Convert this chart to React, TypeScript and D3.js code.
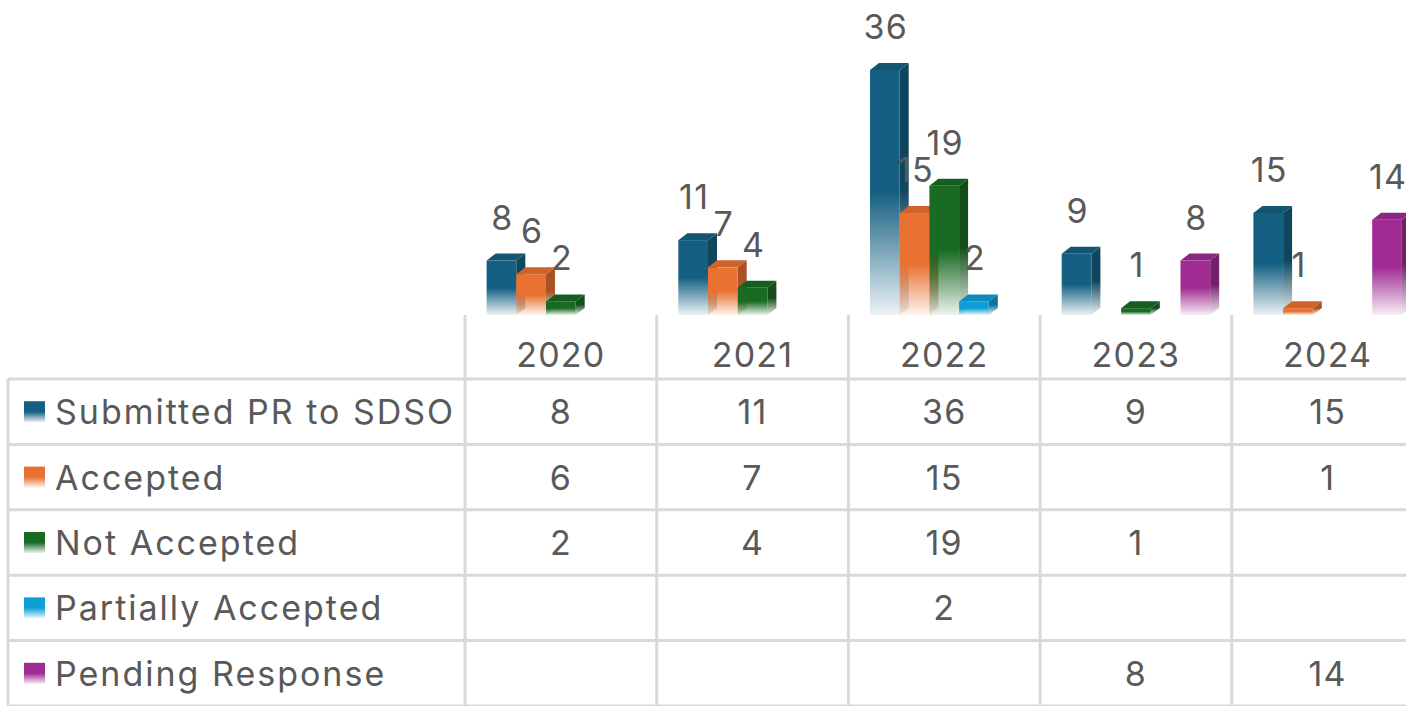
import React from 'react';
import * as d3 from 'd3';

const years = ['2020', '2021', '2022', '2023', '2024'];
const seriesNames = ['Submitted PR to SDSO', 'Accepted', 'Not Accepted', 'Partially Accepted', 'Pending Response'];
const submitted = [8, 11, 36, 9, 15];
const accepted = [6, 7, 15, null, 1];
const notAccepted = [2, 4, 19, 1, null];
const partiallyAccepted = [null, null, 2, null, null];
const pendingResponse = [null, null, null, 8, 14];
const seriesValues = [submitted, accepted, notAccepted, partiallyAccepted, pendingResponse];
const colors = ['#156082', '#E97132', '#196B24', '#0F9ED5', '#A02B93'];

const W = 1406;
const H = 706;
const FONT = 'Inter, "Liberation Sans", sans-serif';
const TEXT = '#595959';
const GRID = '#d9d9d9';

const App = () => {
  const tableLeft = 8;
  const firstColRight = 465;
  const colW = 191.7;
  const headerTop = 315;
  const tableTop = 379;
  const rowH = 65.4;
  const fontSize = 34;

  const x0 = d3.scaleBand().domain(years).range([firstColRight, firstColRight + colW * years.length]);
  const groupW = 148.5;
  const x1 = d3
    .scaleBand()
    .domain(seriesNames)
    .range([(x0.bandwidth() - groupW) / 2, (x0.bandwidth() + groupW) / 2]);
  const y = d3.scaleLinear().domain([0, 36]).range([315, 70]);
  const DX = 9;
  const DY = -7;

  const bars = [];
  const labels = [];
  years.forEach((yr, i) => {
    seriesNames.forEach((name, s) => {
      const v = seriesValues[s][i];
      if (v == null) return;
      const bx = x0(yr) + x1(name);
      const bw = x1.bandwidth();
      const top = y(v);
      const bottom = y(0);
      const side = `M${bx + bw},${top}L${bx + bw + DX},${top + DY}L${bx + bw + DX},${bottom + DY}L${bx + bw},${bottom}Z`;
      const topFace = `M${bx},${top}L${bx + DX},${top + DY}L${bx + bw + DX},${top + DY}L${bx + bw},${top}Z`;
      bars.push(
        <g key={`${yr}-${s}`}>
          <path d={side} fill={`url(#side-${s})`} />
          <path d={topFace} fill={d3.color(colors[s]).darker(0.35).toString()} />
          <rect x={bx} y={top} width={bw} height={bottom - top} fill={`url(#front-${s})`} />
        </g>
      );
      labels.push(
        <text key={`l-${yr}-${s}`} x={bx + bw / 2 + 1} y={top - 31} textAnchor="middle">
          {v}
        </text>
      );
    });
  });

  const rowTop = (r) => tableTop + r * rowH;
  const tableBottom = rowTop(seriesNames.length);
  const colEdges = d3.range(years.length + 1).map((k) => firstColRight + k * colW);

  return (
    <svg
      width={W}
      height={H}
      style={{ position: 'absolute', left: 0, top: 0, background: '#fff' }}
      fontFamily={FONT}
    >
      <defs>
        {colors.map((c, s) => (
          <React.Fragment key={s}>
            <linearGradient id={`front-${s}`} x1="0" y1="0" x2="0" y2="1">
              <stop offset="0" stopColor={c} />
              <stop offset="0.5" stopColor={c} />
              <stop offset="1" stopColor={c} stopOpacity={0.08} />
            </linearGradient>
            <linearGradient id={`side-${s}`} x1="0" y1="0" x2="0" y2="1">
              <stop offset="0" stopColor={d3.color(c).darker(0.9).toString()} />
              <stop offset="0.5" stopColor={d3.color(c).darker(0.9).toString()} />
              <stop offset="1" stopColor={d3.color(c).darker(0.9).toString()} stopOpacity={0.08} />
            </linearGradient>
          </React.Fragment>
        ))}
      </defs>

      {/* bars */}
      <g>{bars}</g>
      <g fill={TEXT} fontSize={fontSize} letterSpacing={1.2}>{labels}</g>

      {/* data table grid */}
      <g stroke={GRID} strokeWidth={3}>
        {colEdges.map((cx, k) => (
          <line key={`v${k}`} x1={cx} x2={cx} y1={headerTop} y2={tableBottom} />
        ))}
        <line x1={tableLeft} x2={tableLeft} y1={tableTop} y2={tableBottom} />
        {d3.range(seriesNames.length + 1).map((r) => (
          <line key={`h${r}`} x1={tableLeft} x2={W + 20} y1={rowTop(r)} y2={rowTop(r)} />
        ))}
      </g>

      {/* header years */}
      <g fill={TEXT} fontSize={fontSize} textAnchor="middle" letterSpacing={1.2}>
        {years.map((yr) => (
          <text key={yr} x={x0(yr) + x0.bandwidth() / 2} y={367}>
            {yr}
          </text>
        ))}
      </g>

      {/* rows */}
      {seriesNames.map((name, r) => {
        const cy = rowTop(r) + rowH / 2;
        return (
          <g key={name} fill={TEXT} fontSize={fontSize}>
            <rect x={24} y={cy - 10.5} width={21} height={21} fill={`url(#front-${r})`} />
            <text x={55} y={cy + 12.5} letterSpacing={2}>{name}</text>
            {years.map((yr, i) => {
              const v = seriesValues[r][i];
              return v == null ? null : (
                <text key={yr} x={x0(yr) + x0.bandwidth() / 2} y={cy + 12.5} textAnchor="middle" letterSpacing={1.2}>
                  {v}
                </text>
              );
            })}
          </g>
        );
      })}
    </svg>
  );
};

export default App;
